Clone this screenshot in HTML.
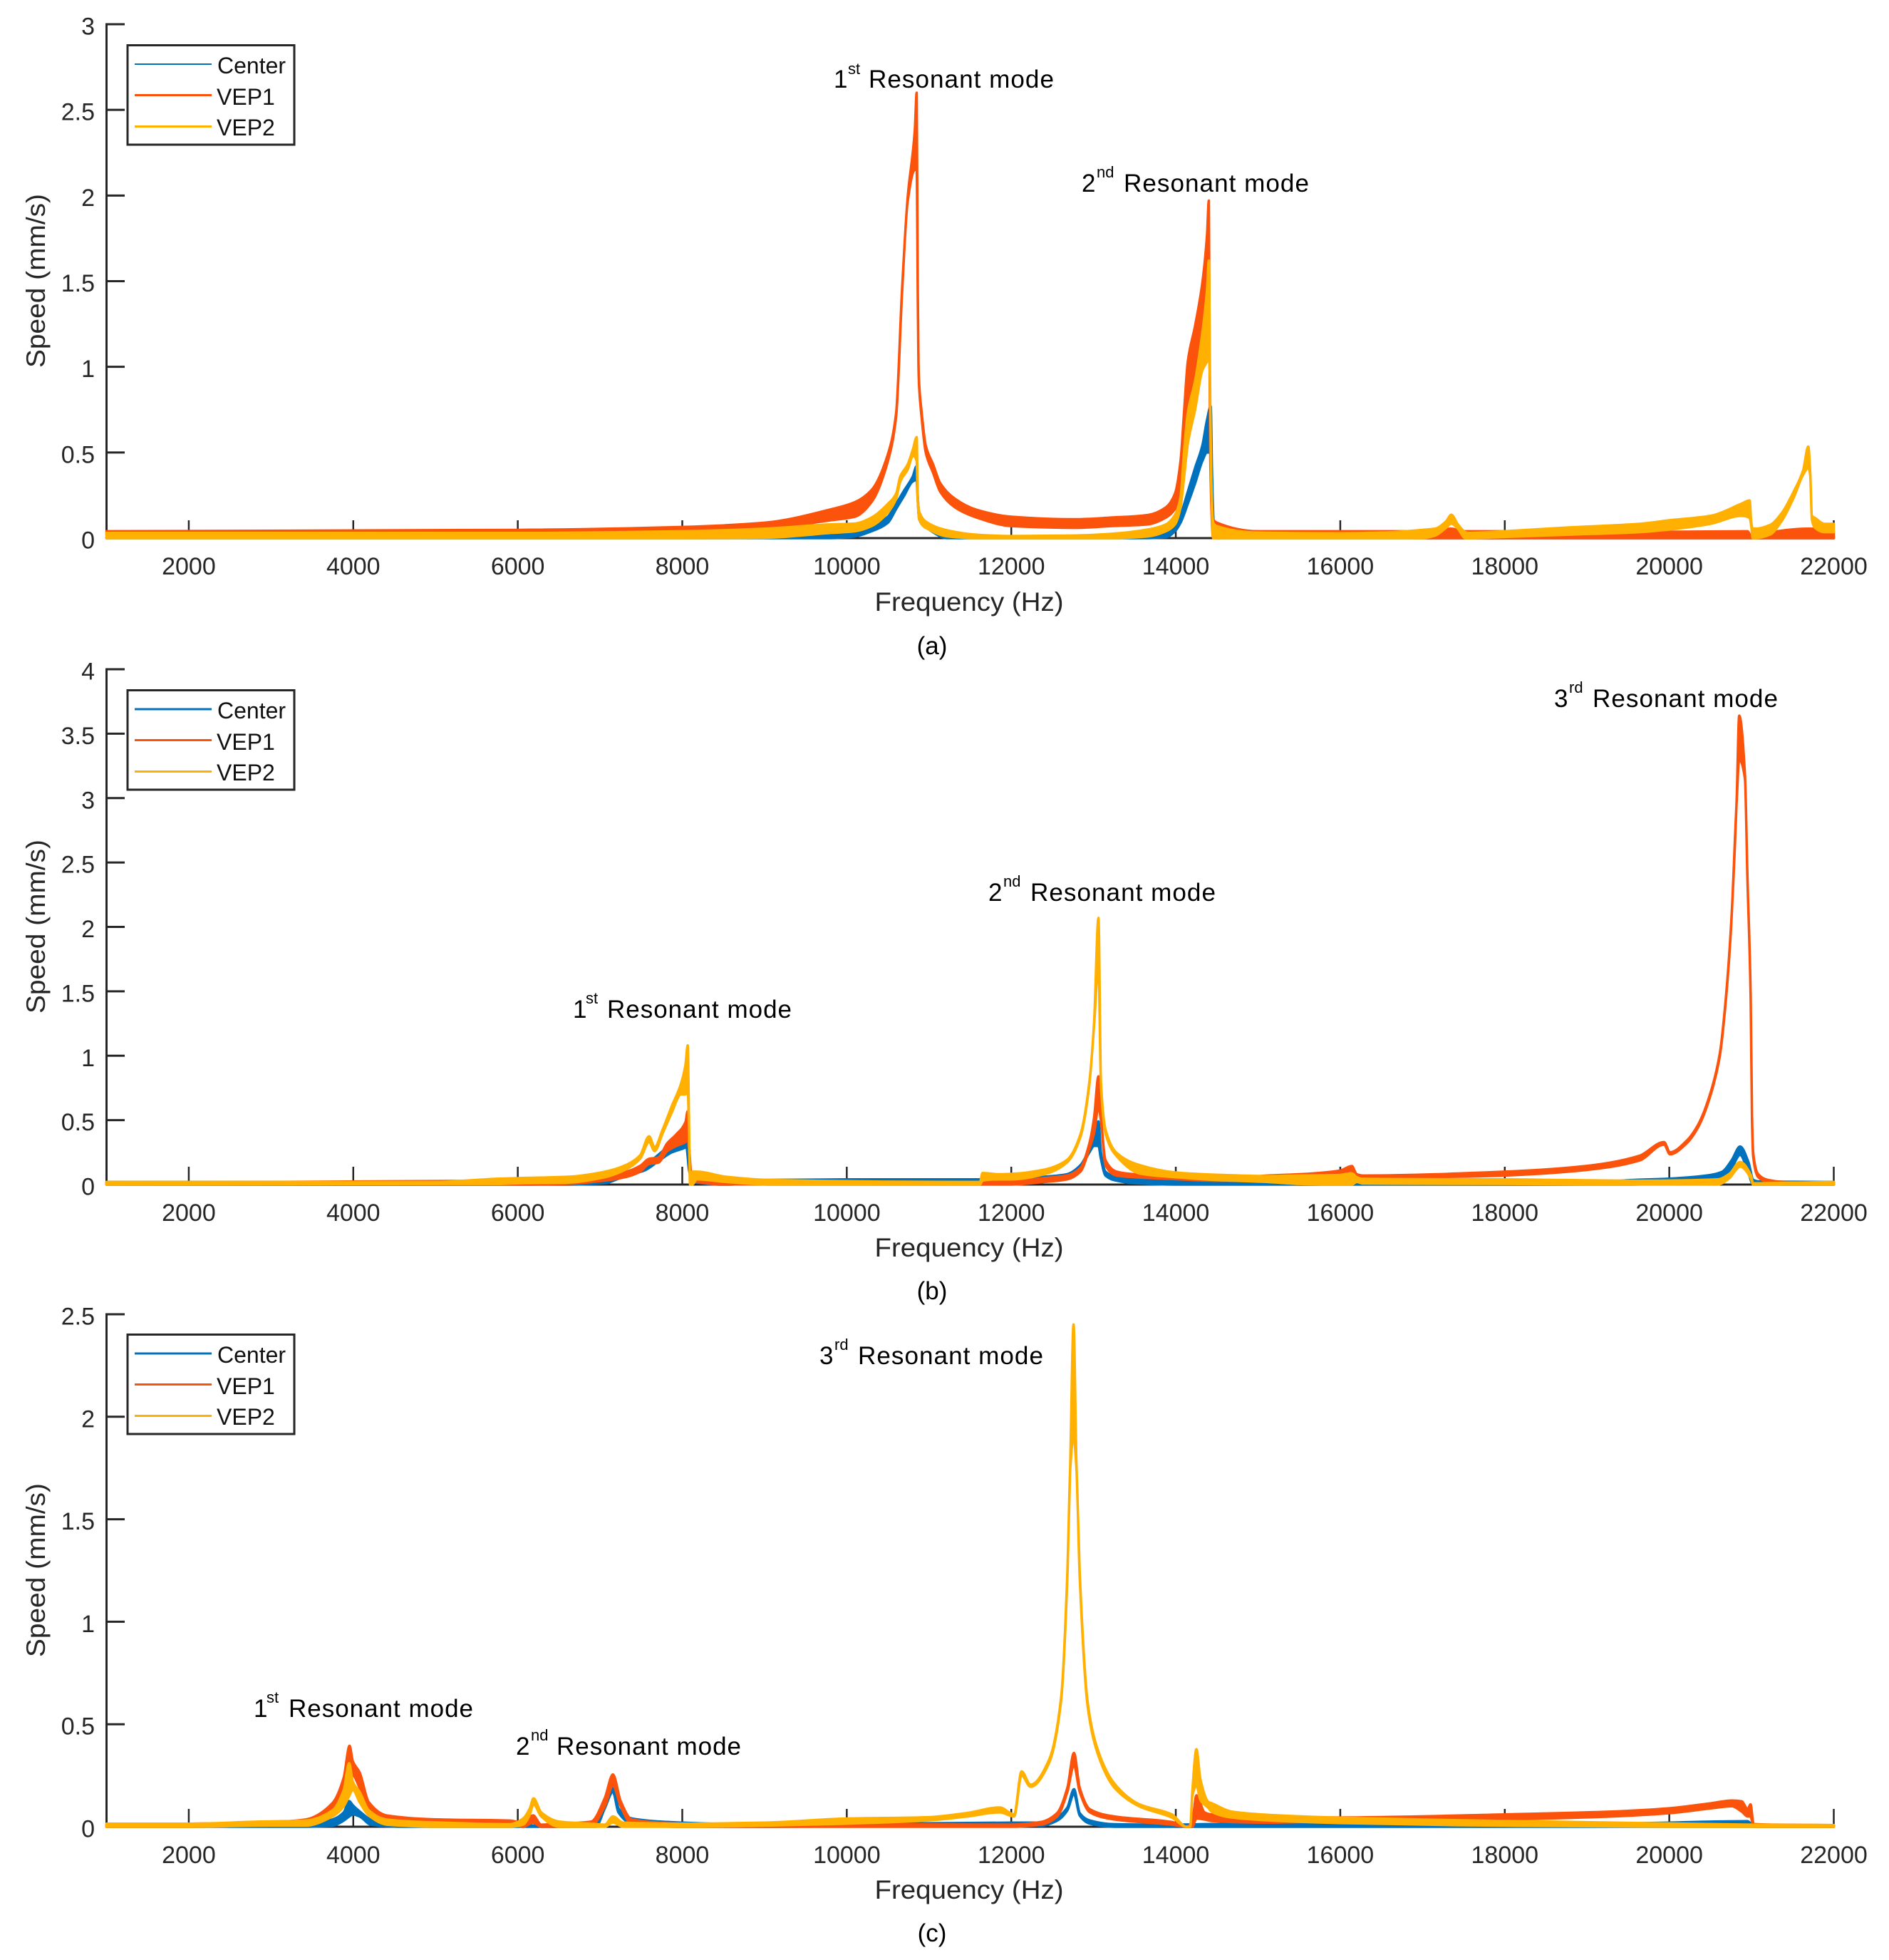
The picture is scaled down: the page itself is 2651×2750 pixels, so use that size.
<!DOCTYPE html>
<html lang="en">
<head>
<meta charset="utf-8">
<title>Speed versus frequency for three resonator configurations</title>
<style>
html,body{margin:0;padding:0;background:#fff;width:2651px;height:2750px;overflow:hidden}
svg{display:block;font-family:"Liberation Sans",Arial,sans-serif}
.axis-text{fill:#262626;font-size:34px}
.title-text{fill:#262626;font-size:37px}
.legend-text{fill:#111;font-size:32px}
.note{fill:#000;font-size:35px;letter-spacing:1px}
.note-sup{fill:#000;font-size:22px}
.caption{fill:#000;font-size:35px;text-anchor:middle}
</style>
</head>
<body>
<svg id="figure" xmlns="http://www.w3.org/2000/svg" width="2651" height="2750" viewBox="0 0 2651 2750">
  <g id="panel-a">
    <g id="panel-a-axes"></g>
    <g id="panel-a-data"></g>
    <text class="title-text" x="1360" y="857" text-anchor="middle" textLength="265" lengthAdjust="spacingAndGlyphs">Frequency (Hz)</text>
    <text class="title-text" transform="translate(63,394) rotate(-90)" text-anchor="middle" textLength="244" lengthAdjust="spacingAndGlyphs">Speed (mm/s)</text>
    <g>
      <rect x="179" y="63.5" width="234" height="139.5" fill="#fff" stroke="#262626" stroke-width="3"/>
      <line x1="189" x2="297" y1="90" y2="90" stroke="#0072BD" stroke-width="2"/>
      <text class="legend-text" x="305" y="103">Center</text>
      <line x1="189" x2="297" y1="133.5" y2="133.5" stroke="#FB530B" stroke-width="3"/>
      <text class="legend-text" x="304" y="147">VEP1</text>
      <line x1="189" x2="297" y1="177.5" y2="177.5" stroke="#FFB000" stroke-width="3"/>
      <text class="legend-text" x="304" y="190">VEP2</text>
    </g>
    <g>
      <text class="note" x="1170" y="123">1</text><text class="note-sup" x="1190" y="104">st</text><text class="note" x="1219" y="123" textLength="261" lengthAdjust="spacingAndGlyphs">Resonant mode</text>
    </g>
    <g>
      <text class="note" x="1518" y="269">2</text><text class="note-sup" x="1539" y="249">nd</text><text class="note" x="1577" y="269" textLength="261" lengthAdjust="spacingAndGlyphs">Resonant mode</text>
    </g>
    <text class="caption" x="1308" y="918">(a)</text>
  </g>

  <g id="panel-b">
    <g id="panel-b-axes"></g>
    <g id="panel-b-data"></g>
    <text class="title-text" x="1360" y="1763" text-anchor="middle" textLength="265" lengthAdjust="spacingAndGlyphs">Frequency (Hz)</text>
    <text class="title-text" transform="translate(63,1300) rotate(-90)" text-anchor="middle" textLength="244" lengthAdjust="spacingAndGlyphs">Speed (mm/s)</text>
    <g>
      <rect x="179" y="968.5" width="234" height="139.5" fill="#fff" stroke="#262626" stroke-width="3"/>
      <line x1="189" x2="297" y1="995" y2="995" stroke="#0072BD" stroke-width="3"/>
      <text class="legend-text" x="305" y="1008">Center</text>
      <line x1="189" x2="297" y1="1038.5" y2="1038.5" stroke="#FB530B" stroke-width="3"/>
      <text class="legend-text" x="304" y="1052">VEP1</text>
      <line x1="189" x2="297" y1="1082.5" y2="1082.5" stroke="#FFB000" stroke-width="3"/>
      <text class="legend-text" x="304" y="1095">VEP2</text>
    </g>
    <g>
      <text class="note" x="804" y="1428">1</text><text class="note-sup" x="822" y="1408">st</text><text class="note" x="852" y="1428" textLength="260" lengthAdjust="spacingAndGlyphs">Resonant mode</text>
    </g>
    <g>
      <text class="note" x="1387" y="1264">2</text><text class="note-sup" x="1408" y="1244">nd</text><text class="note" x="1446" y="1264" textLength="261" lengthAdjust="spacingAndGlyphs">Resonant mode</text>
    </g>
    <g>
      <text class="note" x="2181" y="992">3</text><text class="note-sup" x="2202" y="972">rd</text><text class="note" x="2235" y="992" textLength="261" lengthAdjust="spacingAndGlyphs">Resonant mode</text>
    </g>
    <text class="caption" x="1308" y="1823">(b)</text>
  </g>

  <g id="panel-c">
    <g id="panel-c-axes"></g>
    <g id="panel-c-data"></g>
    <text class="title-text" x="1360" y="2664" text-anchor="middle" textLength="265" lengthAdjust="spacingAndGlyphs">Frequency (Hz)</text>
    <text class="title-text" transform="translate(63,2203) rotate(-90)" text-anchor="middle" textLength="244" lengthAdjust="spacingAndGlyphs">Speed (mm/s)</text>
    <g>
      <rect x="179" y="1872.5" width="234" height="139.5" fill="#fff" stroke="#262626" stroke-width="3"/>
      <line x1="189" x2="297" y1="1899" y2="1899" stroke="#0072BD" stroke-width="3"/>
      <text class="legend-text" x="305" y="1912">Center</text>
      <line x1="189" x2="297" y1="1942.5" y2="1942.5" stroke="#FB530B" stroke-width="3"/>
      <text class="legend-text" x="304" y="1956">VEP1</text>
      <line x1="189" x2="297" y1="1986.5" y2="1986.5" stroke="#FFB000" stroke-width="3"/>
      <text class="legend-text" x="304" y="1999">VEP2</text>
    </g>
    <g>
      <text class="note" x="356" y="2409">1</text><text class="note-sup" x="374" y="2389">st</text><text class="note" x="405" y="2409" textLength="260" lengthAdjust="spacingAndGlyphs">Resonant mode</text>
    </g>
    <g>
      <text class="note" x="724" y="2462">2</text><text class="note-sup" x="745" y="2442">nd</text><text class="note" x="781" y="2462" textLength="260" lengthAdjust="spacingAndGlyphs">Resonant mode</text>
    </g>
    <g>
      <text class="note" x="1150" y="1914">3</text><text class="note-sup" x="1171" y="1894">rd</text><text class="note" x="1204" y="1914" textLength="261" lengthAdjust="spacingAndGlyphs">Resonant mode</text>
    </g>
    <text class="caption" x="1308" y="2724">(c)</text>
  </g>
</svg>

<script>
// Shared axis values
const xTickValues = [2000,4000,6000,8000,10000,12000,14000,16000,18000,20000,22000];
const xTickLabels = ["2000","4000","6000","8000","10000","12000","14000","16000","18000","20000","22000"];
const yTicksA = [0,0.5,1,1.5,2,2.5,3];
const yTickLabelsA = ["0","0.5","1","1.5","2","2.5","3"];
const yTicksB = [0,0.5,1,1.5,2,2.5,3,3.5,4];
const yTickLabelsB = ["0","0.5","1","1.5","2","2.5","3","3.5","4"];
const yTicksC = [0,0.5,1,1.5,2,2.5];
const yTickLabelsC = ["0","0.5","1","1.5","2","2.5"];

// Panel (a) — envelope of each trace, upper and lower edge in mm/s
const aCenterFreq = [1000,6000,8000,9000,9800,10100,10300,10500,10600,10700,10800,10850,10863,10880,11000,11225,12000,13000,13660,13880,13990,14058,14146,14235,14323,14380,14425,14440,14460,14500,15000,22000];
const aCenterHigh = [.005,.005,.008,.012,.028,.04,.07,.125,.2,.28,.357,.42,.24,.15,.08,.03,.01,.01,.02,.03,.07,.135,.27,.41,.54,.69,.77,.39,.1,.05,.01,.01];
const aCenterLow  = [0,0,0,0,0,.01,.04,.09,.17,.25,.33,.34,.22,.11,.05,0,0,0,0,.005,.04,.09,.2,.32,.45,.5,.5,.35,.05,0,0,0];

const aVep1Freq = [1000,6000,8000,9000,9800,10100,10300,10500,10600,10672,10739,10827,10850,10863,10872,10880,10907,10960,11050,11137,11314,11580,12000,12775,13217,13660,13880,13990,14058,14100,14146,14235,14323,14380,14402,14411,14420,14455,14500,15000,16000,17000,17350,17500,18000,20000,20950,21010,21100,21700,22000];
const aVep1High = [.04,.048,.065,.09,.167,.21,.28,.49,.73,1.45,1.98,2.38,2.6,1.45,1.02,.9,.75,.54,.43,.32,.23,.165,.125,.11,.12,.135,.18,.26,.45,.73,1.03,1.24,1.49,1.77,1.97,1.1,.5,.11,.09,.04,.04,.04,.055,.04,.04,.037,.04,0,.02,.055,.04];
const aVep1Low  = [.02,.03,.04,.055,.104,.125,.21,.45,.71,1.43,1.96,2.15,2.15,1.43,1.0,.88,.72,.5,.38,.27,.18,.12,.07,.06,.07,.08,.12,.17,.27,.45,.68,.95,1.17,1.35,1.5,1.05,.45,0,0,.01,.01,0,0,0,0,0,0,0,0,0,0];

const aVep2Freq = [1000,6000,8000,9000,9800,10100,10300,10500,10600,10650,10740,10805,10850,10863,10880,11000,11225,11580,12000,12775,13217,13660,13880,13990,14058,14100,14146,14235,14323,14380,14402,14415,14430,14455,14500,15000,16000,16500,17000,17150,17285,17350,17430,17520,17555,18000,18766,19630,20000,20500,20875,20977,20997,21014,21050,21222,21367,21511,21627,21690,21713,21734,21771,21887,22000];
const aVep2High = [.03,.03,.04,.055,.08,.085,.12,.2,.26,.36,.43,.52,.59,.24,.155,.085,.045,.02,.012,.015,.025,.05,.08,.135,.24,.5,.73,.92,1.2,1.45,1.62,1.0,.39,.09,.07,.032,.028,.032,.048,.055,.097,.136,.08,.035,.03,.04,.062,.083,.104,.13,.2,.22,.09,.055,.055,.076,.146,.27,.395,.534,.39,.13,.118,.083,.083];
const aVep2Low  = [0,0,0,.002,.03,.04,.07,.15,.23,.33,.40,.48,.45,.22,.11,.05,.01,0,0,0,0,.01,.04,.08,.18,.35,.55,.75,.98,1.03,1.05,.95,.35,0,0,0,0,0,0,.014,.06,.085,.055,0,0,.007,.02,.035,.05,.083,.13,.118,.07,0,0,.02,.1,.235,.37,.41,.37,.11,.06,.035,.035];

// Panel (b)
const bCenterFreq = [1000,6000,6603,7045,7321,7542,7707,7873,8011,8050,8083,8121,8535,8922,10000,11600,12000,12400,12675,12841,12950,13007,13060,13090,13145,13282,13503,14000,14340,15115,15500,16000,16200,16275,19000,19529,20000,20500,20644,20760,20861,20962,21020,21078,22000];
const bCenterHigh = [.02,.02,.02,.05,.1,.15,.23,.32,.375,.39,.13,.06,.015,.035,.04,.04,.035,.06,.08,.15,.28,.39,.49,.25,.1,.06,.05,.04,.03,.024,.011,.005,.02,.011,.011,.035,.046,.074,.1,.19,.295,.175,.037,.025,.02];
const bCenterLow  = [0,0,0,.01,.07,.11,.18,.25,.28,.29,.11,.02,0,.01,.015,.015,.01,.03,.05,.13,.25,.3,.3,.2,.07,.03,.01,0,0,0,0,0,0,0,0,0,.01,.03,.05,.13,.23,.09,0,0,0];

const bVep1Freq = [1000,6000,6603,7045,7321,7487,7597,7707,7817,7928,8039,8066,8088,8121,8149,8370,9087,11650,11700,12000,12400,12675,12841,12950,13007,13060,13090,13145,13282,13503,14000,14495,15115,15500,16000,16140,16200,16275,18000,18985,19635,19936,20009,20211,20355,20500,20615,20688,20750,20820,20850,20920,20950,20990,21006,21020,21078,21193,21400,22000];
const bVep1High = [.015,.03,.035,.07,.1,.145,.2,.21,.32,.39,.485,.57,.25,.015,.06,.035,.01,.01,.02,.025,.05,.07,.13,.32,.52,.84,.54,.19,.1,.08,.066,.042,.07,.08,.109,.144,.08,.07,.1,.144,.223,.33,.25,.34,.47,.71,1.02,1.45,2.0,3.0,3.64,3.18,2.4,1.45,.53,.25,.083,.037,.02,.01];
const bVep1Low  = [0,0,.005,.03,.06,.1,.16,.17,.26,.3,.33,.35,.22,0,.02,.005,0,0,0,0,.02,.04,.1,.28,.4,.6,.5,.15,.07,.057,.042,.03,.03,.03,.03,.03,.03,.04,.07,.113,.186,.31,.235,.32,.45,.69,1.0,1.43,1.98,2.98,3.3,3.15,2.38,1.43,.5,.22,.06,.02,0,0];

const bVep2Freq = [1000,5000,5775,6000,6603,7045,7321,7487,7597,7663,7763,7873,7983,8039,8066,8083,8094,8121,8177,8535,9087,11620,11650,11847,12000,12400,12675,12841,12950,13007,13060,13090,13145,13282,13567,14000,14495,15115,15500,16000,16140,16200,16275,18000,19635,20587,20731,20861,20991,21020,22000];
const bVep2High = [.02,.02,.046,.05,.06,.098,.153,.227,.375,.29,.43,.61,.78,.93,1.08,.43,.005,.1,.1,.06,.035,.02,.09,.08,.083,.116,.19,.39,.8,1.26,2.07,.8,.43,.245,.15,.094,.076,.066,.07,.075,.088,.057,.044,.04,.03,.04,.083,.175,.075,.01,.02];
const bVep2Low  = [0,.005,.005,.01,.015,.055,.12,.2,.33,.26,.4,.56,.7,.7,.72,.4,0,0,.04,.02,0,0,.03,.04,.04,.08,.17,.37,.78,1.24,1.7,.78,.4,.22,.085,.057,.035,.02,.005,0,0,.02,.008,.005,0,0,.05,.14,.05,0,0];

// Panel (c)
const cCenterFreq = [1000,3000,3415,3746,3884,3950,3994,4077,4215,4629,6000,6948,7058,7157,7224,7389,8000,9000,12000,12358,12558,12682,12762,12832,12956,13255,14000,14433,16000,18000,20000,20950,21030,22000];
const cCenterHigh = [.008,.008,.012,.035,.07,.125,.105,.075,.035,.01,.006,.015,.115,.22,.09,.04,.02,.01,.02,.02,.046,.094,.183,.067,.03,.012,.01,.013,.013,.005,.02,.027,.005,.005];
const cCenterLow  = [0,0,0,.005,.03,.05,.06,.05,.01,0,0,0,.09,.17,.07,.015,0,0,.005,.005,.03,.08,.16,.055,.015,0,0,0,0,0,0,0,0,0];

const cVep1Freq = [1000,2000,2863,3415,3746,3884,3955,3994,4077,4188,4408,5071,5900,6065,6186,6285,6506,6892,7058,7157,7251,7389,8000,10000,12000,12358,12558,12682,12762,12832,12956,13255,13952,14131,14201,14251,14350,14433,15163,16000,18000,19300,20000,20515,20760,20880,20953,20988,21025,21300,22000];
const cVep1High = [.01,.015,.02,.035,.115,.24,.395,.32,.265,.12,.055,.035,.03,.02,.055,.01,.015,.025,.14,.255,.125,.035,.015,.012,.01,.023,.067,.19,.36,.19,.085,.05,.023,0,.03,.153,.07,.06,.045,.045,.06,.074,.09,.115,.128,.124,.086,.109,.013,.01,.008];
const cVep1Low  = [0,0,.005,.015,.07,.12,.22,.25,.19,.09,.03,.015,.01,0,.02,0,0,.005,.1,.2,.1,.01,0,0,0,.01,.05,.17,.3,.17,.07,.035,.01,0,0,.04,.035,.028,.02,.028,.036,.05,.066,.09,.1,.074,.05,.05,0,0,0];

const cVep2Freq = [1000,2000,2863,3415,3746,3884,3950,3994,4077,4188,4408,5071,5900,6065,6147,6191,6285,6506,6892,7058,7157,7279,8000,9000,10000,10964,11462,11860,12035,12125,12234,12458,12607,12682,12717,12757,12792,12832,12931,13056,13255,13554,13952,14131,14176,14201,14251,14300,14400,14433,14676,15163,16000,18000,20000,21000,22000];
const cVep2High = [.015,.015,.025,.03,.08,.18,.31,.22,.17,.08,.035,.02,.012,.04,.09,.138,.07,.025,.015,.01,.05,.02,.015,.02,.04,.046,.067,.094,.06,.27,.205,.325,.635,1.24,1.77,2.45,1.77,1.24,.6,.37,.21,.11,.06,0,0,.17,.378,.23,.12,.115,.074,.057,.044,.028,.016,.01,.008];
const cVep2Low  = [0,0,.005,.005,.05,.1,.15,.18,.12,.055,.01,0,0,.01,.06,.11,.05,0,0,0,.02,0,0,.005,.015,.03,.05,.07,.05,.25,.195,.31,.62,1.22,1.75,1.9,1.75,1.22,.58,.35,.19,.1,.045,0,0,.15,.2,.13,.09,.074,.045,.03,.018,.005,0,0,0];

const seriesColors = {center:"#0072BD", vep1:"#FB530B", vep2:"#FFB000"};
const SVG_NS = "http://www.w3.org/2000/svg";

const X_LEFT = 149.5, X_RIGHT = 2573.5, X_MIN = 1000, X_MAX = 22000;
function xScale(f){ return X_LEFT + (f - X_MIN) * (X_RIGHT - X_LEFT) / (X_MAX - X_MIN); }
function makeYScale(yBase, yTop, vMax){ return function(v){ return yBase - v * (yBase - yTop) / vMax; }; }

function drawAxes(host, yScale, ticks, labels, yBase, yTop){
  const yLine = document.createElementNS(SVG_NS, "line");
  
  
  yLine.setAttribute("x1", X_LEFT); yLine.setAttribute("x2", X_LEFT);
  yLine.setAttribute("y1", yTop - 1.5); yLine.setAttribute("y2", yBase + 1.5);
  yLine.setAttribute("stroke", "#262626"); yLine.setAttribute("stroke-width", 3);
  host.appendChild(yLine);

  const xLine = document.createElementNS(SVG_NS, "line");
  
  
  xLine.setAttribute("x1", X_LEFT); xLine.setAttribute("x2", X_RIGHT);
  xLine.setAttribute("y1", yBase); xLine.setAttribute("y2", yBase);
  xLine.setAttribute("stroke", "#262626"); xLine.setAttribute("stroke-width", 3);
  host.appendChild(xLine);

  ticks.forEach(function(v, i){
    const y = yScale(v);
    const tick = document.createElementNS(SVG_NS, "line");
    
    
    tick.setAttribute("x1", X_LEFT); tick.setAttribute("x2", X_LEFT + 25.5);
    tick.setAttribute("y1", y); tick.setAttribute("y2", y);
    tick.setAttribute("stroke", "#262626"); tick.setAttribute("stroke-width", 3);
    host.appendChild(tick);
    const label = document.createElementNS(SVG_NS, "text");
    
    
    label.setAttribute("class", "axis-text");
    label.setAttribute("x", 133); label.setAttribute("y", y + 14.5);
    label.setAttribute("text-anchor", "end");
    label.textContent = labels[i];
    host.appendChild(label);
  });

  xTickValues.forEach(function(f, i){
    const x = xScale(f);
    const tick = document.createElementNS(SVG_NS, "line");
    
    
    tick.setAttribute("x1", x); tick.setAttribute("x2", x);
    tick.setAttribute("y1", yBase); tick.setAttribute("y2", yBase - 25);
    tick.setAttribute("stroke", "#262626"); tick.setAttribute("stroke-width", 2.5);
    host.appendChild(tick);
    const label = document.createElementNS(SVG_NS, "text");
    
    
    label.setAttribute("class", "axis-text");
    label.setAttribute("x", x); label.setAttribute("y", yBase + 51);
    label.setAttribute("text-anchor", "middle");
    label.textContent = xTickLabels[i];
    host.appendChild(label);
  });
}

// Monotone cubic tangents so the curved skirts stay smooth without overshooting the read values
function tangents(xs, ys){
  const n = xs.length, h = [], d = [], m = new Array(n);
  for (let i = 0; i < n - 1; i++){ h[i] = xs[i+1] - xs[i]; d[i] = (ys[i+1] - ys[i]) / h[i]; }
  m[0] = d[0]; m[n-1] = d[n-2];
  for (let i = 1; i < n - 1; i++){
    if (d[i-1] * d[i] <= 0) { m[i] = 0; continue; }
    const w1 = 2 * h[i] + h[i-1], w2 = h[i] + 2 * h[i-1];
    m[i] = (w1 + w2) / (w1 / d[i-1] + w2 / d[i]);
  }
  return m;
}

function edgeSegments(xs, ys, reverse){
  const m = tangents(xs, ys);
  let out = "";
  if (!reverse){
    for (let i = 0; i < xs.length - 1; i++){
      const dx = (xs[i+1] - xs[i]) / 3;
      out += " C" + (xs[i]+dx).toFixed(2) + " " + (ys[i]+m[i]*dx).toFixed(2) + " " + (xs[i+1]-dx).toFixed(2) + " " + (ys[i+1]-m[i+1]*dx).toFixed(2) + " " + xs[i+1].toFixed(2) + " " + ys[i+1].toFixed(2);
    }
  } else {
    for (let i = xs.length - 1; i > 0; i--){
      const dx = (xs[i] - xs[i-1]) / 3;
      out += " C" + (xs[i]-dx).toFixed(2) + " " + (ys[i]-m[i]*dx).toFixed(2) + " " + (xs[i-1]+dx).toFixed(2) + " " + (ys[i-1]+m[i-1]*dx).toFixed(2) + " " + xs[i-1].toFixed(2) + " " + ys[i-1].toFixed(2);
    }
  }
  return out;
}

function drawSeries(host, yScale, name, color, freq, high, low){
  const xs = freq.map(xScale);
  const yHigh = high.map(yScale);
  const yLow = low.map(yScale);
  const last = xs.length - 1;
  const d = "M" + xs[0].toFixed(2) + " " + yHigh[0].toFixed(2) +
    edgeSegments(xs, yHigh, false) +
    " L" + xs[last].toFixed(2) + " " + yLow[last].toFixed(2) +
    edgeSegments(xs, yLow, true) + " Z";
  const band = document.createElementNS(SVG_NS, "path");
  
  
  band.setAttribute("d", d);
  band.setAttribute("fill", color);
  band.setAttribute("stroke", color);
  band.setAttribute("stroke-width", 3.5);
  band.setAttribute("stroke-linejoin", "round");
  host.appendChild(band);
}

const yA = makeYScale(755, 34, 3);
const yB = makeYScale(1662, 939, 4);
const yC = makeYScale(2563, 1844, 2.5);

drawAxes(document.getElementById("panel-a-axes"), yA, yTicksA, yTickLabelsA, 755, 34);
drawAxes(document.getElementById("panel-b-axes"), yB, yTicksB, yTickLabelsB, 1662, 939);
drawAxes(document.getElementById("panel-c-axes"), yC, yTicksC, yTickLabelsC, 2563, 1844);

const hostA = document.getElementById("panel-a-data");
drawSeries(hostA, yA, "series-center", seriesColors.center, aCenterFreq, aCenterHigh, aCenterLow);
drawSeries(hostA, yA, "series-vep1", seriesColors.vep1, aVep1Freq, aVep1High, aVep1Low);
drawSeries(hostA, yA, "series-vep2", seriesColors.vep2, aVep2Freq, aVep2High, aVep2Low);

const hostB = document.getElementById("panel-b-data");
drawSeries(hostB, yB, "series-center", seriesColors.center, bCenterFreq, bCenterHigh, bCenterLow);
drawSeries(hostB, yB, "series-vep1", seriesColors.vep1, bVep1Freq, bVep1High, bVep1Low);
drawSeries(hostB, yB, "series-vep2", seriesColors.vep2, bVep2Freq, bVep2High, bVep2Low);

const hostC = document.getElementById("panel-c-data");
drawSeries(hostC, yC, "series-center", seriesColors.center, cCenterFreq, cCenterHigh, cCenterLow);
drawSeries(hostC, yC, "series-vep1", seriesColors.vep1, cVep1Freq, cVep1High, cVep1Low);
drawSeries(hostC, yC, "series-vep2", seriesColors.vep2, cVep2Freq, cVep2High, cVep2Low);
</script>
</body>
</html>
